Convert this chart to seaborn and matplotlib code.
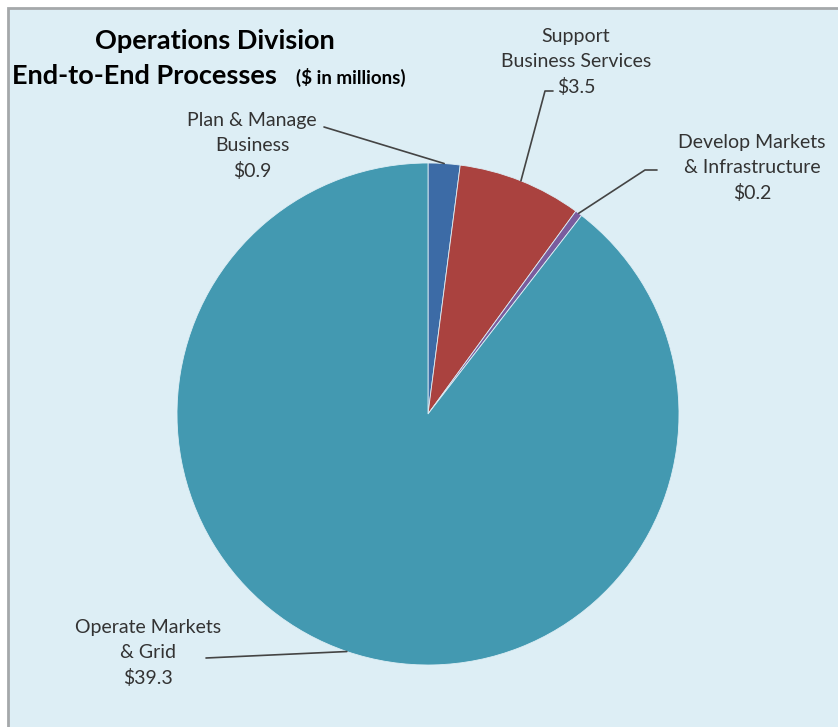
import numpy as np
import matplotlib.pyplot as plt
import seaborn as sns
from matplotlib.patches import Rectangle

# data
labels = ['Plan & Manage\nBusiness', 'Support\nBusiness Services',
          'Develop Markets\n& Infrastructure', 'Operate Markets\n& Grid']
values = [0.9, 3.5, 0.2, 39.3]
colors = ['#3C6BA6', '#AA423F', '#7A5C9E', '#4399B1']

sns.set_style('white')
plt.rcParams['font.family'] = ['Lato', 'DejaVu Sans']

W, H = 838, 727
fig = plt.figure(figsize=(W / 100, H / 100), dpi=100, facecolor='white')
ax = fig.add_axes([0, 0, 1, 1])

bg = '#DDEEF5'
ax.add_patch(Rectangle((8, -5), W, H - 8 + 5, facecolor=bg, edgecolor='#A5A8AA', lw=2, zorder=0))

cx, cy, r = 428, H - 414, 251
ax.pie(values, colors=colors, startangle=90, counterclock=False,
       center=(cx, cy), radius=r, frame=True,
       wedgeprops=dict(linewidth=0.6, edgecolor=bg))
ax.set_xlim(0, W)
ax.set_ylim(0, H)
ax.set_aspect('equal')
ax.axis('off')

# leader lines from each slice middle to its label
total = sum(values)
cum = np.cumsum([0] + values[:-1])
mids = [(c + v / 2) / total * 360 for c, v in zip(cum, values)]
edge = [(cx + r * np.sin(np.radians(m)), cy + r * np.cos(np.radians(m))) for m in mids]

# label position (center of text block, image y), line path start
label_pos = [(252, 146), (576, 62), (752, 168), (148, 653)]
line_start = [[(324, 127)], [(553, 91), (545, 91)], [(657, 170), (645, 170)], [(206, 658)]]

for lab, val, (lx, ly), pts, e in zip(labels, values, label_pos, line_start, edge):
    ax.text(lx, H - ly, lab + '\n$' + f'{val}', ha='center', va='center',
            fontsize=14, color='#333333', linespacing=1.52)
    xs = [p[0] for p in pts] + [e[0]]
    ys = [H - p[1] for p in pts] + [e[1]]
    ax.plot(xs, ys, color='#444444', lw=1.2, zorder=3)

ax.text(215, H - 41, 'Operations Division', ha='center', va='center',
        fontsize=19.5, fontweight='bold', color='black')
ax.text(12, H - 76, 'End-to-End Processes', ha='left', va='center',
        fontsize=19.5, fontweight='bold', color='black')
ax.text(296, H - 77, '($ in millions)', ha='left', va='center',
        fontsize=13.5, fontweight='bold', color='black')

fig.savefig('out.png', dpi=100, facecolor='white')
